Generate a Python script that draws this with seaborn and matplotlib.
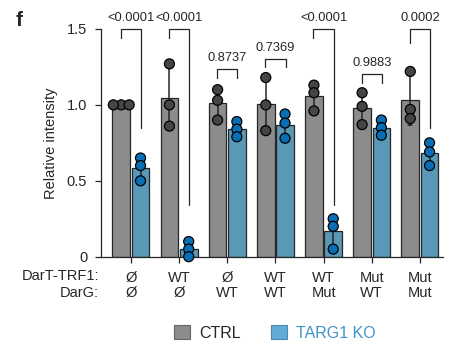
import numpy as np
import pandas as pd
from matplotlib import pyplot as plt
from matplotlib.patches import Patch
import seaborn as sns

sns.set_theme(style="ticks")
plt.rcParams['font.family'] = ['Liberation Sans', 'DejaVu Sans']

# data (three replicates per bar)
dart = ['Ø', 'WT', 'Ø', 'WT', 'WT', 'Mut', 'Mut']
darg = ['Ø', 'Ø', 'WT', 'WT', 'Mut', 'WT', 'Mut']
ctrl_vals = [
    [1.0, 1.0, 1.0],
    [1.27, 1.0, 0.86],
    [1.10, 1.03, 0.90],
    [1.18, 1.0, 0.83],
    [1.13, 1.08, 0.96],
    [1.08, 0.99, 0.87],
    [1.22, 0.97, 0.91],
]
targ_vals = [
    [0.65, 0.60, 0.50],
    [0.10, 0.05, 0.0],
    [0.89, 0.84, 0.79],
    [0.94, 0.88, 0.78],
    [0.25, 0.20, 0.05],
    [0.90, 0.85, 0.80],
    [0.75, 0.69, 0.60],
]
pvals = ['<0.0001', '<0.0001', '0.8737', '0.7369', '<0.0001', '0.9883', '0.0002']
# bracket layout: top, left-leg end, right-leg end (data units)
br_top = [1.50, 1.50, 1.236, 1.30, 1.50, 1.20, 1.50]
br_left = [1.443, 1.443, 1.177, 1.25, 1.443, 1.146, 1.41]
br_right = [0.848, 0.34, 1.177, 1.25, 0.34, 1.146, 0.848]

groups = [f'{a}\n{b}' for a, b in zip(dart, darg)]
rows = []
for g, cv, tv in zip(groups, ctrl_vals, targ_vals):
    rows += [dict(group=g, cond='CTRL', value=v) for v in cv]
    rows += [dict(group=g, cond='TARG1 KO', value=v) for v in tv]
df = pd.DataFrame(rows)

bar_pal = {'CTRL': '#8c8c8c', 'TARG1 KO': '#4b9dc7'}
pt_pal = {'CTRL': '#454545', 'TARG1 KO': '#0b6db4'}
dark = '#262626'

fig = plt.figure(figsize=(4.53, 3.43), dpi=100)
ax = fig.add_axes([0.223, 0.2516, 0.755, 0.664])

sns.barplot(data=df, x='group', y='value', hue='cond', order=groups,
            palette=bar_pal, errorbar='sd', capsize=0.15, gap=0.08, width=0.8,
            edgecolor=dark, linewidth=0.9,
            err_kws=dict(color=dark, linewidth=1.1), legend=False, ax=ax)
n_before = len(ax.collections)
# swarm laid out with small markers, then enlarged so they overlap like the original
sns.swarmplot(data=df, x='group', y='value', hue='cond', order=groups,
              palette=pt_pal, dodge=True, size=4.6, edgecolor='black', linewidth=0.9,
              legend=False, ax=ax)
fig.canvas.draw()
for c in ax.collections[n_before:]:
    if 'draw' in c.__dict__:
        del c.draw  # keep the positions computed above
    c.set_sizes([7.2 ** 2])
    c.set_clip_on(False)
    c.set_zorder(5)

for i in range(len(groups)):
    xl, xr = i - 0.21, i + 0.21
    ax.plot([xl, xl, xr, xr], [br_left[i], br_top[i], br_top[i], br_right[i]],
            color=dark, lw=0.9, clip_on=False)
    ax.text(i, br_top[i] + 0.035, pvals[i], ha='center', va='bottom', fontsize=9.3,
            color=dark)

ax.set_ylim(0, 1.5)
ax.set_xlim(-0.62, 6.48)
ax.set_yticks([0, 0.5, 1.0, 1.5])
ax.set_yticklabels(['0', '0.5', '1.0', '1.5'])
ax.set_xlabel('')
ax.set_ylabel('Relative intensity', fontsize=10.5, labelpad=6)
ax.tick_params(axis='both', labelsize=10.5, width=0.9, length=4, color=dark)
ax.tick_params(axis='y', pad=6)
ax.tick_params(axis='x', pad=6)
for lbl in ax.get_xticklabels():
    lbl.set_linespacing(1.15)
sns.despine(ax=ax)
for s in ['left', 'bottom']:
    ax.spines[s].set_linewidth(0.9)
    ax.spines[s].set_color(dark)

fig.text(99 / 453, 1 - 276 / 343, 'DarT-TRF1:', ha='right', va='center', fontsize=10.5)
fig.text(99 / 453, 1 - 293 / 343, 'DarG:', ha='right', va='center', fontsize=10.5)
fig.text(16 / 453, 1 - 20 / 343, 'f', ha='left', va='center', fontsize=15, fontweight='bold')

handles = [Patch(facecolor='#8c8c8c', edgecolor='#666666', lw=0.8),
           Patch(facecolor='#62aad8', edgecolor='#4f87aa', lw=0.8)]
leg = fig.legend(handles, ['CTRL', 'TARG1 KO'], loc='lower center', ncol=2,
                 frameon=False, bbox_to_anchor=(0.607, -0.035), fontsize=11.5,
                 handlelength=1.0, handleheight=1.0, columnspacing=1.9, handletextpad=0.55)
leg.get_texts()[1].set_color('#3f94c8')

plt.savefig('out.png', dpi=100)
